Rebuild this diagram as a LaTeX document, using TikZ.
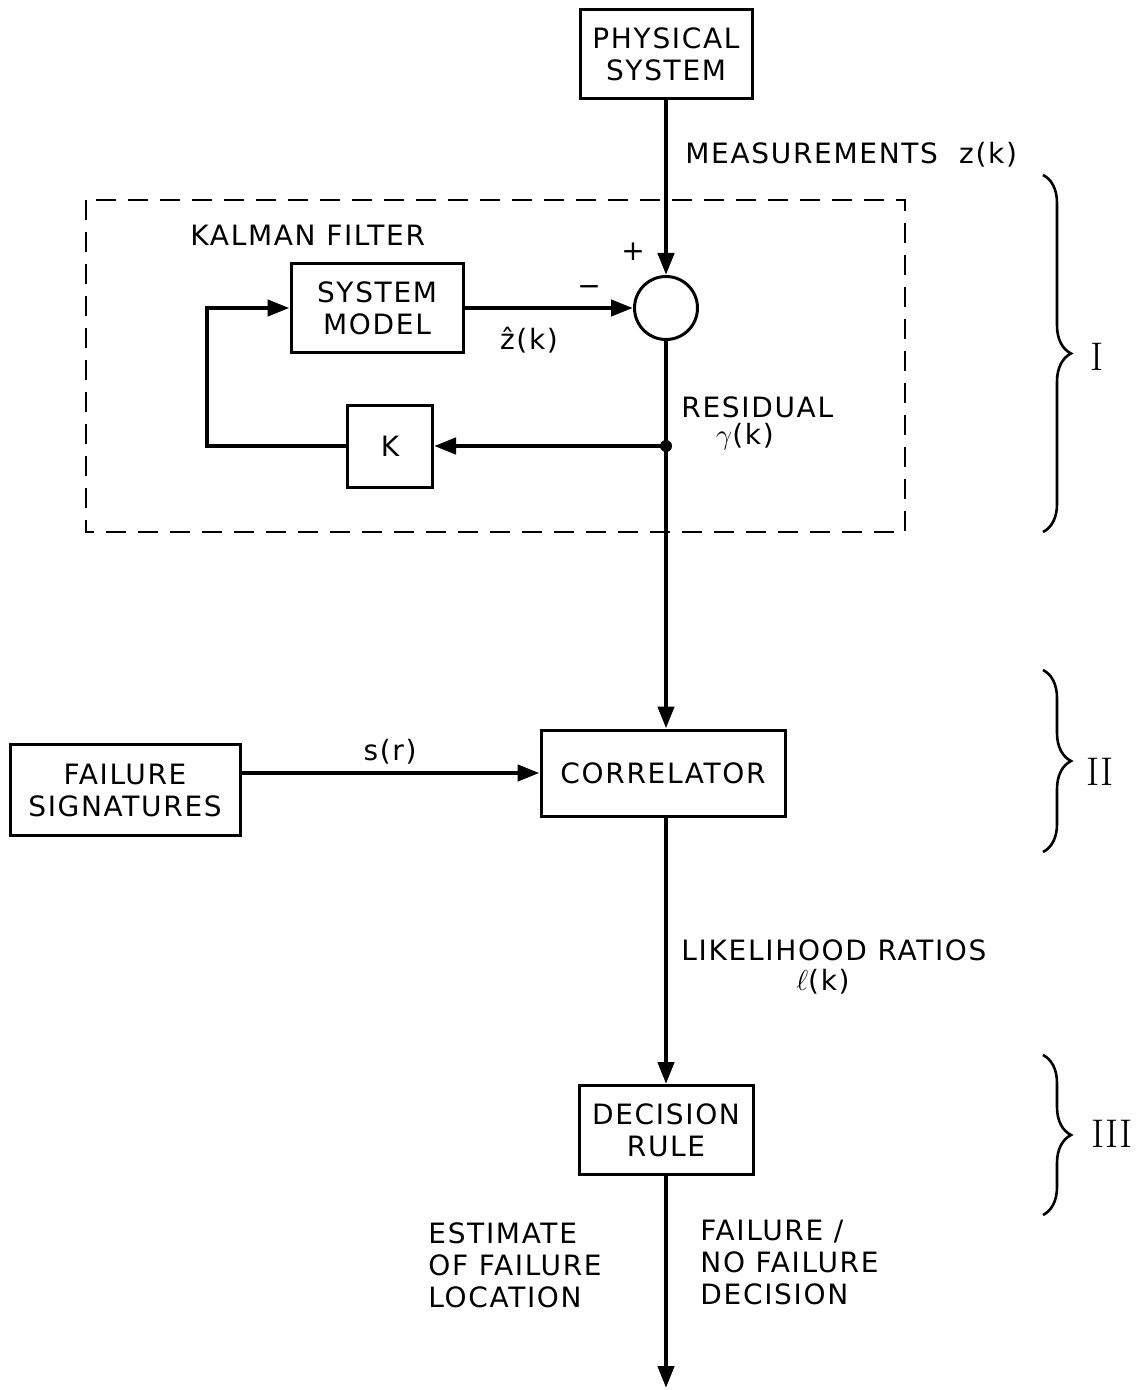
\documentclass[tikz,border=0pt]{standalone}
\usepackage{fontspec}
\usetikzlibrary{arrows.meta, decorations.pathreplacing}
\newfontfamily\blockfont{DejaVu Sans}[LetterSpace=6]
\tikzset{
  block/.style={draw, line width=1.5pt, align=center, inner sep=0pt,
    font=\blockfont\fontsize{14}{16}\selectfont},
  lbl/.style={inner sep=0pt, align=left, font=\blockfont\fontsize{14}{16}\selectfont},
  flow/.style={line width=2.2pt, -{Triangle[length=11pt, width=8pt]}},
  kfframe/.style={line width=1pt, dash pattern=on 10pt off 6pt},
  secbrace/.style={decorate, decoration={brace, amplitude=14pt}, line width=1.3pt},
  romlbl/.style={inner sep=0pt, font=\rmfamily\fontsize{20}{24}\selectfont}
}
\begin{document}
\begin{tikzpicture}[x=0.5pt, y=-0.5pt]
\useasboundingbox (0,0) rectangle (1136,1390);

% blocks
\node[block, minimum width=86pt, minimum height=44.5pt] (phys) at (666,54) {PHYSICAL\\SYSTEM};
\node[block, minimum width=86pt, minimum height=44.5pt] (model) at (377,308) {SYSTEM\\MODEL};
\node[block, minimum width=42.5pt, minimum height=41pt] (gain) at (390,446) {K};
\node[circle, draw, line width=1.5pt, minimum size=31.5pt, inner sep=0pt] (sum) at (666,308) {};
\node[block, minimum width=122pt, minimum height=43pt] (corr) at (663,773) {CORRELATOR};
\node[block, minimum width=115pt, minimum height=45.5pt] (fsig) at (125,790) {FAILURE\\SIGNATURES};
\node[block, minimum width=87pt, minimum height=44.5pt] (rule) at (666,1130) {DECISION\\RULE};
\coordinate (tap) at (666,446);
\coordinate (out) at (666,1388);

% kalman filter frame
\draw[kfframe] (86,200) rectangle (905,532);

% connectors
\draw[flow] (phys) -- (sum);
\draw[flow] (model) -- (sum);
\draw[flow] (sum) -- (sum |- corr.north);
\draw[flow] (tap) -- (gain);
\draw[flow] (gain.west) -- ++(-139,0) |- (model.west);
\draw[flow] (fsig.east |- corr.west) -- (corr.west);
\draw[flow] (rule |- corr.south) -- (rule.north);
\draw[flow] (rule) -- (out);
\fill (tap) circle (3pt);

% labels
\node[lbl, anchor=west] (meas) at (685,155) {MEASUREMENTS\ \ z(k)};
\node[lbl, anchor=west] (kf) at (190,235) {KALMAN FILTER};
\node[lbl] (plus) at (633,252) {+};
\node[lbl] (minus) at (589,291) {−};
\node[lbl] (zhat) at (529,340) {ẑ(k)};
\node[lbl, anchor=west] (resid) at (681,407) {RESIDUAL};
\node[lbl] (gam) at (745,437) {$\gamma$(k)};
\node[lbl] (sig) at (390,752) {s(r)};
\node[lbl, anchor=west] (lik) at (681,950) {LIKELIHOOD RATIOS};
\node[lbl] (ell) at (823,982) {$\ell$(k)};
\node[lbl, anchor=north west] (est) at (428,1222) {ESTIMATE\\OF FAILURE\\LOCATION};
\node[lbl, anchor=north west] (dec) at (700,1220) {FAILURE /\\NO FAILURE\\DECISION};

% sections
\draw[secbrace] (1043,175) -- (1043,532);
\draw[secbrace] (1043,670) -- (1043,852);
\draw[secbrace] (1043,1055) -- (1043,1215);
\node[romlbl] (secI) at (1097,357) {I};
\node[romlbl] (secII) at (1100,772) {II};
\node[romlbl] (secIII) at (1112,1134) {III};
\end{tikzpicture}
\end{document}
